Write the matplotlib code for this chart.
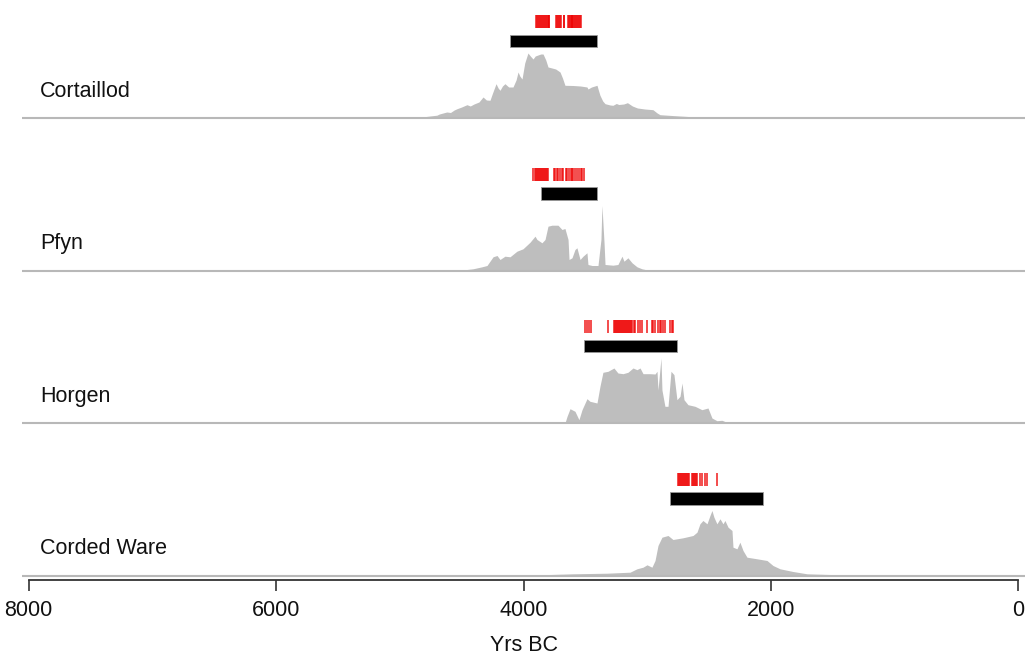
import matplotlib
matplotlib.use("Agg")
import matplotlib.pyplot as plt
import matplotlib.transforms as mtransforms
from matplotlib.patches import Rectangle

plt.rcParams['font.family'] = ['Liberation Sans', 'DejaVu Sans']

# ---------------- data (years BC, summed probability in relative units) ----------------
cultures = ["Cortaillod", "Pfyn", "Horgen", "Corded Ware"]

cort_years = [5100, 4990, 4900, 4850, 4800, 4756, 4700, 4680, 4620, 4590, 4560, 4537, 4500, 4457,
              4430, 4400, 4360, 4327, 4300, 4271, 4250, 4222, 4205, 4190, 4170, 4150, 4120, 4085,
              4060, 4044, 4030, 4012, 3990, 3964, 3945, 3923, 3905, 3883, 3860, 3842, 3820, 3802,
              3770, 3740, 3705, 3685, 3665, 3600, 3540, 3487, 3479, 3450, 3406, 3395, 3382, 3360,
              3341, 3300, 3277, 3250, 3230, 3190, 3160, 3120, 3100, 3079, 3020, 2954, 2920, 2897,
              2800, 2735, 2600, 2469, 2300, 2200]
cort_dens = [0, 0.5, 0.8, 1.0, 1.3, 2, 2.8, 4, 6, 5.5, 8, 9.3, 11, 13.3,
             12, 14, 16, 21, 18, 17.7, 25, 34.3, 30, 27.7, 32, 34.3, 31, 31,
             38, 46, 42, 39, 55, 65, 62, 59, 62, 63, 64, 64, 58, 51,
             50, 49, 46, 40, 32.7, 32.5, 32, 31, 29, 31, 32.7, 28, 22.7, 17,
             14.3, 13, 12.7, 14.5, 13.5, 14, 15.3, 12, 11, 10, 9, 8.3, 5, 3.3,
             2.5, 2, 1, 0.7, 0.3, 0]

pfyn_years = [4470, 4457, 4408, 4335, 4295, 4246, 4214, 4190, 4150, 4109, 4053, 4004, 3947, 3907,
              3891, 3851, 3826, 3802, 3770, 3721, 3689, 3665, 3640, 3632, 3608, 3584, 3568, 3543,
              3519, 3487, 3479, 3446, 3398, 3374, 3366, 3349, 3341, 3277, 3237, 3204, 3188, 3156,
              3123, 3083, 3043, 2978]
pfyn_dens = [0, 1, 1.7, 3.7, 5, 13.7, 15, 11, 14.3, 13.7, 19.3, 21.7, 28.3, 34.3,
             31, 27.7, 31, 44.3, 45.3, 45.3, 41, 42, 31, 11, 12.7, 21, 22.7, 11,
             14.3, 17.7, 6, 5, 5, 31, 65, 27.7, 6, 5.3, 6, 14.3, 9.3, 12.7,
             7.7, 3.7, 1.7, 0]

horg_years = [3665, 3648, 3624, 3584, 3552, 3527, 3487, 3463, 3406, 3382, 3358, 3317, 3269, 3237,
              3196, 3156, 3115, 3083, 3058, 3034, 2978, 2937, 2921, 2913, 2889, 2881, 2857, 2832,
              2808, 2784, 2760, 2735, 2719, 2703, 2671, 2614, 2558, 2509, 2477, 2437, 2396, 2356,
              2307]
horg_dens = [0, 6.7, 14.3, 11.7, 3.3, 13.3, 24.3, 21.7, 20, 36.7, 50.7, 51.7, 55, 50,
             49.3, 50.7, 55, 53.3, 55, 49.3, 49.3, 49, 51.7, 33, 65, 33, 16.7, 16.7,
             51.7, 48.3, 23.3, 26.7, 40, 23.3, 18.3, 16.7, 13.3, 15, 5, 2.3, 2.7, 0.7,
             0]

cord_years = [3950, 3867, 3600, 3325, 3139, 3083, 3034, 3002, 2962, 2937, 2913, 2881, 2832, 2792,
              2711, 2630, 2598, 2574, 2550, 2517, 2493, 2477, 2461, 2437, 2412, 2388, 2372, 2347,
              2315, 2307, 2275, 2251, 2226, 2194, 2113, 2032, 1984, 1927, 1822, 1709, 1443, 1200]
cord_dens = [0, 0.7, 1.7, 2.3, 3.3, 6.7, 8.3, 10.7, 8.3, 15, 30, 38.3, 40, 36,
             37.7, 40, 43.3, 51.7, 55, 51.7, 60, 65, 58.3, 51.7, 56.7, 51.7, 55, 48.3,
             45, 28.3, 26.7, 33.3, 25, 18.3, 16.7, 15, 10, 6.7, 4, 1.7, 0.7, 0]

# individual radiocarbon dates (red ticks), years BC
cort_dates = [3900, 3892, 3884, 3876, 3868, 3860, 3852, 3844, 3836, 3828, 3820, 3812, 3804, 3796, 3790,
              3736, 3728, 3720, 3712, 3704, 3696, 3676, 3670, 3644, 3636, 3628, 3620, 3612,
              3604, 3596, 3588, 3580, 3572, 3564, 3556, 3548, 3540, 3532]
pfyn_dates = [3923, 3907, 3895, 3888, 3880, 3872, 3865, 3858, 3851, 3844, 3836, 3828, 3820, 3812,
              3805, 3752, 3742, 3732, 3718, 3708, 3688, 3678, 3655, 3648, 3630, 3620, 3610, 3598,
              3586, 3566, 3555, 3535, 3525, 3512]
horg_dates = [3503, 3490, 3470, 3458, 3318, 3270, 3262, 3254, 3246, 3238, 3230, 3222, 3214, 3206,
              3198, 3190, 3182, 3174, 3166, 3158, 3150, 3140, 3130, 3120, 3110, 3100, 3075, 3060,
              3040, 3000, 2962, 2950, 2935, 2912, 2900, 2885, 2870, 2858, 2815, 2800, 2792]
cord_dates = [2752, 2742, 2734, 2726, 2718, 2710, 2702, 2694, 2686, 2678, 2670, 2660, 2640, 2632,
              2624, 2616, 2608, 2600, 2572, 2560, 2532, 2520, 2436]

# culture duration (black bars): start, end (years BC)
bar_start = [4109, 3859, 3511, 2816]
bar_end = [3406, 3406, 2760, 2065]

xticks = [8000, 6000, 4000, 2000, 0]
xlabel = "Yrs BC"

# ---------------- drawing ----------------
W, H = 1025, 659
fig = plt.figure(figsize=(W / 100, H / 100), dpi=100)

baselines_px = [118, 270.5, 423, 575.5]
years_all = [cort_years, pfyn_years, horg_years, cord_years]
dens_all = [cort_dens, pfyn_dens, horg_dens, cord_dens]
dates_all = [cort_dates, pfyn_dates, horg_dates, cord_dates]

gray = "#bebebe"
FS = 15.5
for i, name in enumerate(cultures):
    b = baselines_px[i]
    ax = fig.add_axes([22 / W, (H - (b + 4)) / H, 1003 / W, 120 / H])
    ax.set_xlim(8053, -53)
    ax.set_ylim(-4, 116)
    ax.fill_between(years_all[i], dens_all[i], 0, color=gray, lw=0)
    ax.axhline(0, color="#b8b8b8", lw=1.5, zorder=1)
    ax.vlines(dates_all[i], 90, 103, color="#ee0000", alpha=0.7, lw=1.4)
    ax.add_patch(Rectangle((bar_start[i], 71), bar_end[i] - bar_start[i], 12.5,
                           facecolor="black", edgecolor="#999999", lw=0.6))
    trans = mtransforms.blended_transform_factory(ax.transAxes, ax.transData)
    ax.text(18 / 1003, 26.5, name, transform=trans, va="center", ha="left",
            fontsize=FS, color="#111111")
    for s in ["top", "right", "left"]:
        ax.spines[s].set_visible(False)
    ax.set_yticks([])
    if i < 3:
        ax.spines["bottom"].set_visible(False)
        ax.set_xticks([])
    else:
        ax.spines["bottom"].set_bounds(0, 8000)
        ax.spines["bottom"].set_linewidth(1.3)
        ax.spines["bottom"].set_color("#333333")
        ax.set_xticks(xticks)
        ax.set_xticklabels([str(t) for t in xticks])
        ax.tick_params(axis="x", length=8, width=1.2, color="#333333", pad=7,
                       labelsize=FS, labelcolor="#111111")
        ax.set_xlabel(xlabel, fontsize=FS, labelpad=10, color="#111111")

fig.savefig("out.png", dpi=100)
